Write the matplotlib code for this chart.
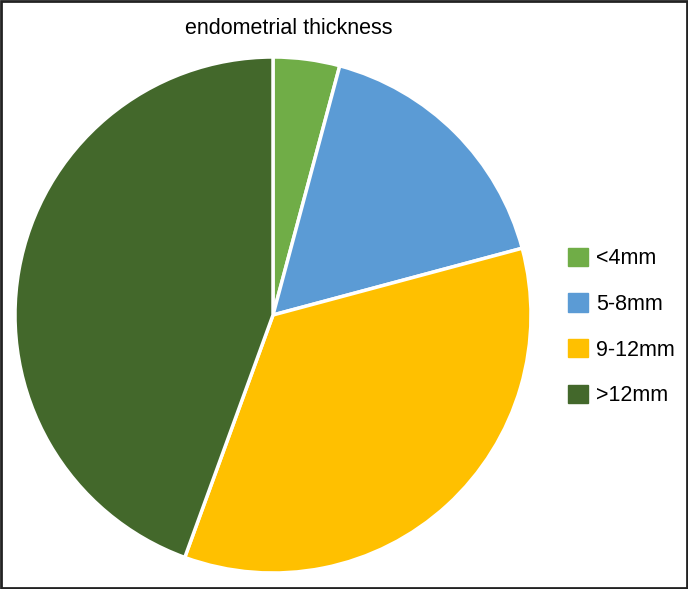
import matplotlib

matplotlib.use("Agg")
import matplotlib.pyplot as plt
from matplotlib.patches import Rectangle

plt.rcParams["font.family"] = ["Liberation Sans", "DejaVu Sans"]

# endometrial thickness groups (patient counts)
labels = ["<4mm", "5-8mm", "9-12mm", ">12mm"]
counts = [3, 12, 25, 32]
colors = ["#70AD47", "#5B9BD5", "#FFC000", "#43682B"]

W, H = 688, 589
fig = plt.figure(figsize=(W / 100, H / 100), dpi=100)

# pie centre ~ (273, 315) px, radius ~258 px
cx, cy, r = 273, 315, 258
ax = fig.add_axes([(cx - r) / W, (H - cy - r) / H, 2 * r / W, 2 * r / H])
ax.pie(counts, colors=colors, startangle=90, counterclock=False,
       wedgeprops=dict(edgecolor="white", linewidth=2.5))
ax.set_xlim(-1, 1); ax.set_ylim(-1, 1)
ax.set_aspect("equal")

fig.text(289 / W, 1 - 28 / H, "endometrial thickness", ha="center",
         va="center", fontsize=15.5)

handles = [Rectangle((0, 0), 1, 1, color=c) for c in colors]
fig.legend(handles, labels, loc="center left",
           bbox_to_anchor=(568 / W, 1 - 327 / H), frameon=False,
           borderpad=0, borderaxespad=0,
           fontsize=15.5, handlelength=0.93, handleheight=0.93,
           labelspacing=1.12, handletextpad=0.38)

# thin black frame round the whole picture
fig.patches.append(Rectangle((0.001, 0.001), 0.997, 0.997,
                             transform=fig.transFigure, fill=False,
                             edgecolor="#222222", linewidth=2))

fig.savefig("out.png", dpi=100)
